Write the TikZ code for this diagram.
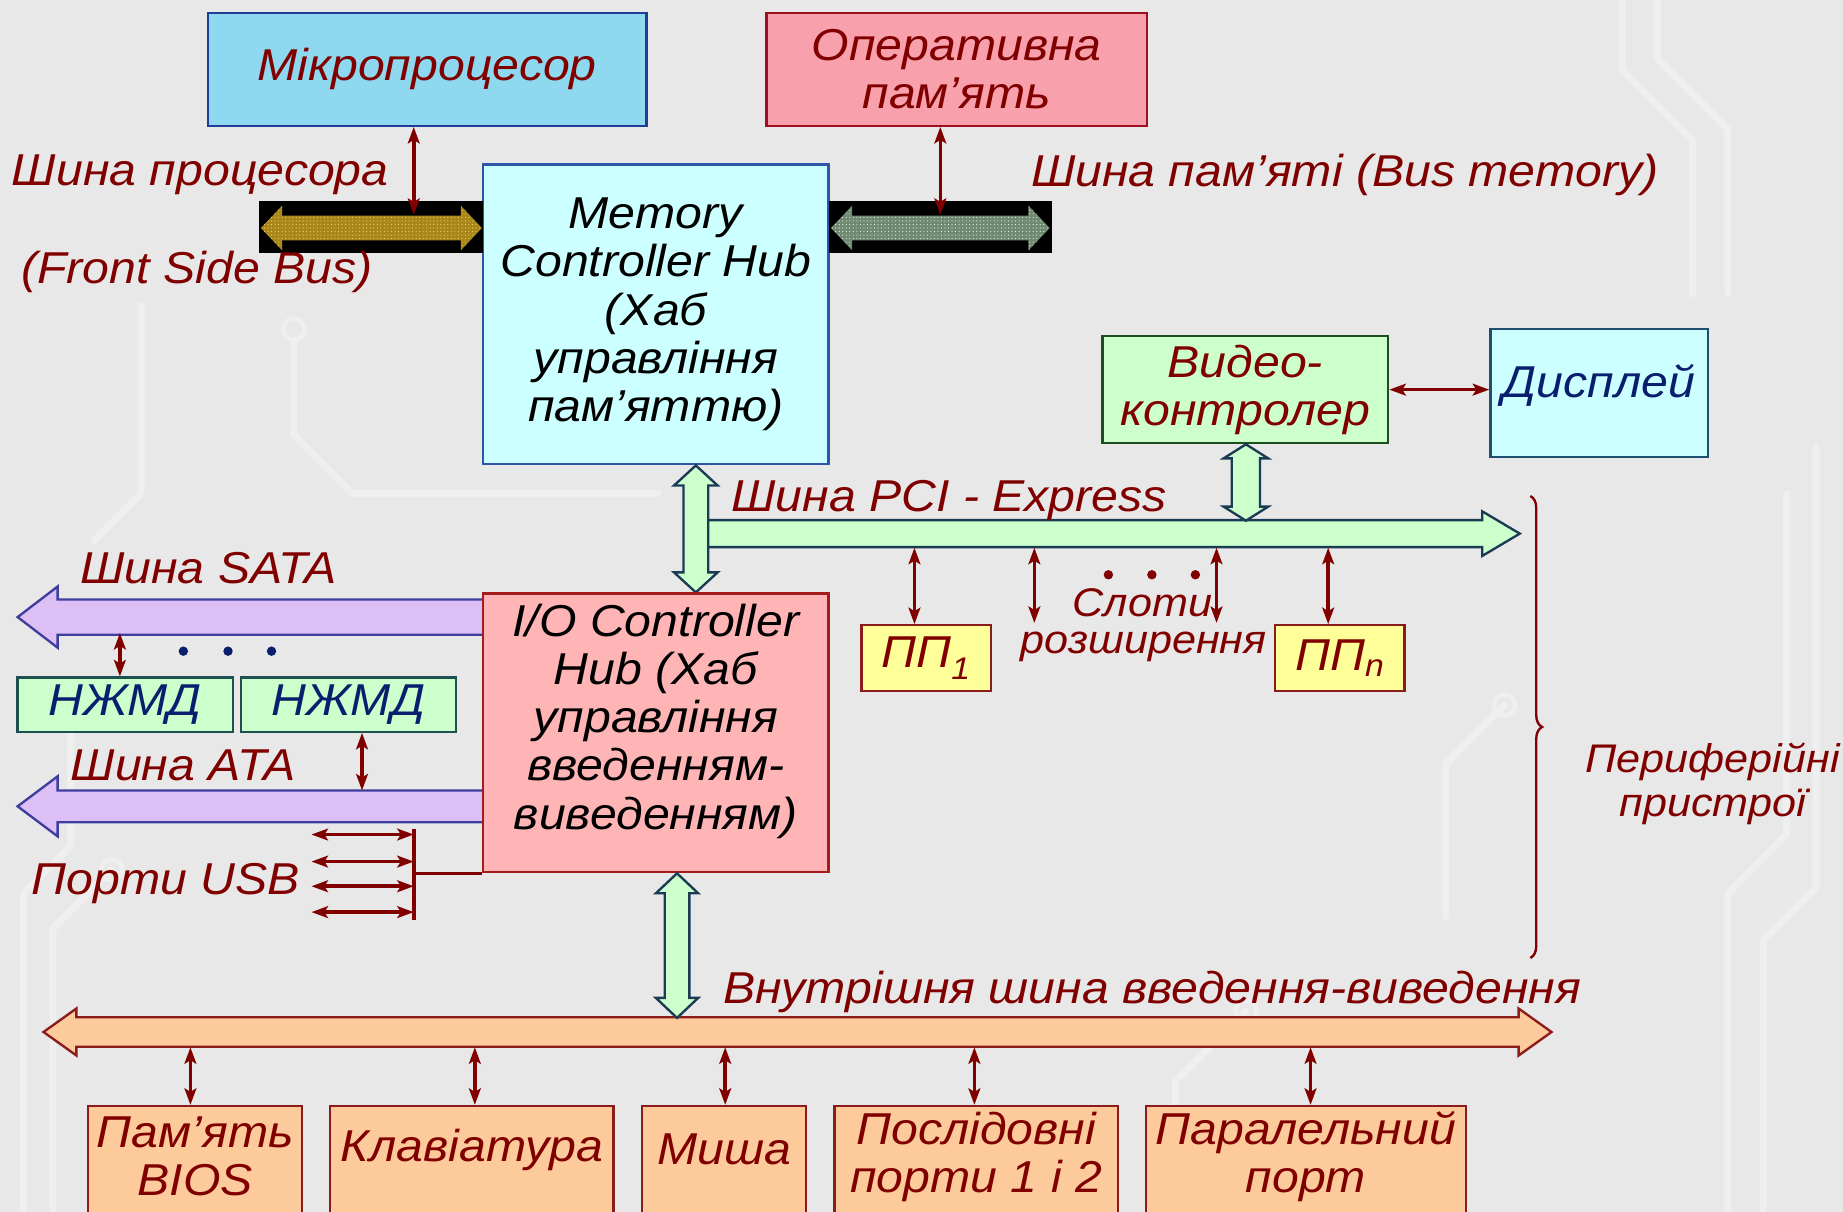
\documentclass[tikz,border=0pt]{standalone}
\usepackage{fontspec}
\setmainfont{Liberation Sans}[FakeStretch=1.08]
\usetikzlibrary{arrows.meta,patterns,decorations.pathreplacing,calc}
\definecolor{tred}{HTML}{800000}
\definecolor{bgc}{HTML}{E8E8E8}
\definecolor{trace}{HTML}{EFEFEF}
\definecolor{cpufill}{HTML}{8ED8F0}
\definecolor{cpuborder}{HTML}{1F3C96}
\definecolor{ramfill}{HTML}{F8A0AC}
\definecolor{ramborder}{HTML}{9E1020}
\definecolor{cyanfill}{HTML}{CCFFFF}
\definecolor{mchborder}{HTML}{2F55A8}
\definecolor{vidfill}{HTML}{CCFFCC}
\definecolor{vidborder}{HTML}{1E4D1E}
\definecolor{dispborder}{HTML}{1E4F6E}
\definecolor{ichfill}{HTML}{FFB5B5}
\definecolor{ichborder}{HTML}{A51C1C}
\definecolor{ppfill}{HTML}{FFFF99}
\definecolor{ppborder}{HTML}{8C1C1C}
\definecolor{peach}{HTML}{FDCB9B}
\definecolor{pborder}{HTML}{8C1C1C}
\definecolor{satafill}{HTML}{DCC0F5}
\definecolor{sataborder}{HTML}{3E3E9E}
\definecolor{gfill}{HTML}{CCFFCC}
\definecolor{gborder}{HTML}{1B3B55}
\definecolor{fsbbase}{HTML}{A8861C}
\definecolor{fsbdot}{HTML}{F2D44E}
\definecolor{membase}{HTML}{6F8A70}
\definecolor{memdot}{HTML}{DDF5DD}
\definecolor{navy}{HTML}{0A1E6E}
\definecolor{hddborder}{HTML}{1E5050}
\newcommand\bigf{\fontsize{38}{41}\selectfont\itshape}
\newcommand\smallf{\fontsize{34}{37}\selectfont\itshape}
% horizontal double block arrow: style, x1, x2, yc, half body, half head, head length
\newcommand\hdarrow[7]{\path[#1] (#2,#4) -- ({#2+#7},{#4-#6}) -- ({#2+#7},{#4-#5}) -- ({#3-#7},{#4-#5}) -- ({#3-#7},{#4-#6}) -- (#3,#4) -- ({#3-#7},{#4+#6}) -- ({#3-#7},{#4+#5}) -- ({#2+#7},{#4+#5}) -- ({#2+#7},{#4+#6}) -- cycle;}
% vertical double block arrow: style, xc, y1(top), y2(bottom), half body, half head, head length
\newcommand\vdarrow[7]{\path[#1] (#2,#3) -- ({#2+#6},{#3+#7}) -- ({#2+#5},{#3+#7}) -- ({#2+#5},{#4-#7}) -- ({#2+#6},{#4-#7}) -- (#2,#4) -- ({#2-#6},{#4-#7}) -- ({#2-#5},{#4-#7}) -- ({#2-#5},{#3+#7}) -- ({#2-#6},{#3+#7}) -- cycle;}
% left single block arrow (open tail): style, xtip, xtail, yc, half body, half head, head length
\newcommand\larrow[7]{\path[#1] (#3,{#4-#5}) -- ({#2+#7},{#4-#5}) -- ({#2+#7},{#4-#6}) -- (#2,#4) -- ({#2+#7},{#4+#6}) -- ({#2+#7},{#4+#5}) -- (#3,{#4+#5});}
% right single block arrow (open tail): style, xtail, xtip, yc, half body, half head, head length
\newcommand\rarrow[7]{\path[#1] (#2,{#4-#5}) -- ({#3-#7},{#4-#5}) -- ({#3-#7},{#4-#6}) -- (#3,#4) -- ({#3-#7},{#4+#6}) -- ({#3-#7},{#4+#5}) -- (#2,{#4+#5});}
\begin{document}
\begin{tikzpicture}[x=1pt,y=-1pt,
  box/.style={draw, line width=2pt, inner sep=0pt, align=center, font=\bigf},
  txt/.style={inner sep=0pt, align=center, font=\bigf, text=tred},
  stxt/.style={inner sep=0pt, align=center, font=\smallf, text=tred},
  lbl/.style={inner sep=0pt, anchor=west, font=\bigf, text=tred},
  tarrow/.style={draw=tred, line width=3pt, {Stealth[length=14pt,width=10pt,inset=3pt]}-{Stealth[length=14pt,width=10pt,inset=3pt]}},
  tline/.style={draw=tred, line width=3pt},
  trc/.style={draw=trace, line width=6pt, line cap=round, line join=round},
  pad/.style={draw=trace, line width=4pt},
  gbus/.style={fill=gfill, draw=gborder, line width=2pt},
  sbus/.style={fill=satafill, draw=sataborder, line width=2pt},
  obus/.style={fill=peach, draw=pborder, line width=2pt},
  fsbarr/.style={fill=fsbbase, postaction={pattern=dots, pattern color=fsbdot}},
  memarr/.style={fill=membase, postaction={pattern=dots, pattern color=memdot}}]
\useasboundingbox (0,0) rectangle (1568,1031);
\clip (0,0) rectangle (1568,1031);
\fill[bgc] (0,0) rectangle (1568,1031);

% ---------- faint circuit-board background ----------
\draw[trc] (20,1031) -- (20,760) -- (60,720) -- (60,580);
\draw[trc] (45,1031) -- (45,790) -- (95,740);
\draw[trc] (1470,1031) -- (1470,760) -- (1520,710) -- (1520,420);
\draw[trc] (1500,1031) -- (1500,800) -- (1545,755) -- (1545,380);
\draw[trc] (1380,0) -- (1380,60) -- (1440,120) -- (1440,250);
\draw[trc] (1410,0) -- (1410,50) -- (1470,110) -- (1470,250);
\draw[trc] (1000,1031) -- (1000,920) -- (1060,860);
\draw[trc] (560,420) -- (300,420) -- (250,370) -- (250,290);
\draw[trc] (120,260) -- (120,420) -- (80,460);
\draw[trc] (1230,780) -- (1230,650) -- (1280,600);
\draw[pad] (95,740) circle (9pt) (250,280) circle (9pt) (1280,600) circle (9pt) (1060,860) circle (9pt);

% ---------- top boxes ----------
\node[box, fill=cpufill, draw=cpuborder, text=tred, minimum width=373pt, minimum height=96pt] (cpu) at (363.5,59) {Мікропроцесор};
\node[box, fill=ramfill, draw=ramborder, text=tred, minimum width=324pt, minimum height=96pt] (ram) at (814,59) {Оперативна\\пам’ять};
\node[box, fill=cyanfill, draw=mchborder, text=black, minimum width=294pt, minimum height=255pt] (mch) at (558,267.5) {Memory\\Controller Hub\\(Хаб\\управління\\пам’яттю)};

% ---------- front side bus & memory bus ----------
\node[fill=black, inner sep=0pt, minimum width=191pt, minimum height=44pt] (fsb) at (315.5,193) {};
\node[fill=black, inner sep=0pt, minimum width=190pt, minimum height=44pt] (membus) at (800,193) {};
\hdarrow{fsbarr}{222}{410}{194}{10.5}{19}{18}
\hdarrow{memarr}{707}{893}{194}{10.5}{19}{18}
\draw[tarrow] ([xshift=-11.5pt]cpu.south) -- ([xshift=36.5pt,yshift=-12pt]fsb.north);
\draw[tarrow] ([xshift=-14pt]ram.south) -- ([yshift=-12pt]membus.north);
\node[lbl] (lcpu) at (10,149) {Шина процесора};
\node[lbl] (lfsb) at (18,231) {(Front Side Bus)};
\node[lbl] (lmem) at (877,149) {Шина пам’яті (Bus memory)};

% ---------- video / display ----------
\node[box, fill=vidfill, draw=vidborder, text=tred, minimum width=243pt, minimum height=91pt] (video) at (1059.5,331.5) {Видео-\\контролер};
\node[box, fill=cyanfill, draw=dispborder, text=navy, minimum width=185pt, minimum height=109pt] (disp) at (1360.5,334.5) {\raisebox{20pt}{Дисплей}};
\draw[tarrow] (video.east) -- (video.east -| disp.west);

% ---------- PCI express ----------
\rarrow{gbus}{601}{1293}{454}{11.5}{19}{32}
\vdarrow{gbus}{592}{396}{504}{10.5}{18.5}{17}
\vdarrow{gbus}{1060}{378}{443}{12}{19}{12}
\node[lbl] (lpci) at (622,426) {Шина PCI - Express};
\coordinate (pcib) at (0,466);

\node[box, fill=ppfill, draw=ppborder, text=tred, minimum width=110pt, minimum height=56pt] (pp1) at (788,560) {ПП\textsubscript{1}};
\node[box, fill=ppfill, draw=ppborder, text=tred, minimum width=110pt, minimum height=56pt] (ppn) at (1140,560) {ПП\textsubscript{n}};
\draw[tarrow] ([xshift=-10pt]pp1.north) -- ([xshift=-10pt]pp1.north |- pcib);
\draw[tarrow] ([xshift=-10pt]ppn.north) -- ([xshift=-10pt]ppn.north |- pcib);
\coordinate (slotA) at (880,530);
\coordinate (slotB) at (1035,530);
\draw[tarrow] (slotA) -- (slotA |- pcib);
\draw[tarrow] (slotB) -- (slotB |- pcib);
\fill[tred] (943,489) circle (4pt) (980,489) circle (4pt) (1017,489) circle (4pt);
\node[stxt] (lslot) at (972,513) {Слоти};
\node[stxt] (lslot2) at (973,550) {розширення};

% ---------- brace ----------
\draw[tred, line width=2pt, decorate, decoration={brace, amplitude=10pt}] (1302,422) -- (1302,815);
\node[stxt] (lper) at (1457,667) {Периферійні\\пристрої};

% ---------- SATA / ATA ----------
\larrow{sbus}{15}{412}{525}{15}{26}{34}
\larrow{sbus}{15}{412}{686}{13.5}{25.5}{34}
\node[box, fill=ichfill, draw=ichborder, minimum width=294pt, minimum height=237pt] (ich) at (558,623.5) {};
\node[inner sep=0pt, align=center, font=\bigf, text=black] (ichtxt) at ([yshift=10pt]ich.center) {I/O Controller\\Hub (Хаб\\управління\\введенням-\\виведенням)};
\node[lbl] (lsata) at (68,483) {Шина SATA};
\node[lbl] (lata) at (60,651) {Шина ATA};
\fill[navy] (156,554) circle (4pt) (194,554) circle (4pt) (231,554) circle (4pt);
\node[box, fill=vidfill, draw=hddborder, text=navy, minimum width=183pt, minimum height=46pt] (hdd1) at (106.5,599.5) {НЖМД};
\node[box, fill=vidfill, draw=hddborder, text=navy, minimum width=183pt, minimum height=46pt] (hdd2) at (296.5,599.5) {НЖМД};
\draw[tarrow] ([xshift=-4.5pt]hdd1.north) -- ++(0,-37);
\draw[tarrow] ([xshift=11.5pt]hdd2.south) -- ++(0,49);

% ---------- USB ----------
\coordinate (usbj) at (352,743);
\draw[tline] (ich.south west) -- (usbj);
\draw[tline] (352,705) -- (352,783);
\foreach \yy in {710,733,754,776}{
  \draw[tarrow] (265,\yy) -- (352,\yy);
}
\node[lbl] (lusb) at (27,752) {Порти USB};

% ---------- internal I/O bus ----------
\hdarrow{obus}{37}{1320}{878}{12.5}{20}{28}
\vdarrow{gbus}{576}{743}{866}{10.5}{18}{17}
\node[lbl] (lint) at (615,844) {Внутрішня шина введення-виведення};
\coordinate (iob) at (0,891);

\node[box, fill=peach, draw=pborder, anchor=north, minimum width=182pt, minimum height=110pt] (bios) at (166,940) {};
\node[box, fill=peach, draw=pborder, anchor=north, minimum width=241pt, minimum height=110pt] (kbd) at (401.5,940) {};
\node[box, fill=peach, draw=pborder, anchor=north, minimum width=140pt, minimum height=110pt] (mouse) at (616,940) {};
\node[box, fill=peach, draw=pborder, anchor=north, minimum width=241pt, minimum height=110pt] (ser) at (830.5,940) {};
\node[box, fill=peach, draw=pborder, anchor=north, minimum width=272pt, minimum height=110pt] (par) at (1111,940) {};
\node[txt] at (166,984) {Пам’ять\\BIOS};
\node[txt] at (401.5,978) {Клавіатура};
\node[txt] at (616,978) {Миша};
\node[txt] at (830.5,984) {Послідовні\\порти 1 і 2};
\node[txt] at (1111,984) {Паралельний\\порт};
\draw[tarrow] ([xshift=-4pt]bios.north) -- ([xshift=-4pt]bios.north |- iob);
\draw[tarrow] ([xshift=2.5pt]kbd.north) -- ([xshift=2.5pt]kbd.north |- iob);
\draw[tarrow] ([xshift=1pt]mouse.north) -- ([xshift=1pt]mouse.north |- iob);
\draw[tarrow] ([xshift=-1.5pt]ser.north) -- ([xshift=-1.5pt]ser.north |- iob);
\draw[tarrow] ([xshift=4pt]par.north) -- ([xshift=4pt]par.north |- iob);
\end{tikzpicture}
\end{document}
